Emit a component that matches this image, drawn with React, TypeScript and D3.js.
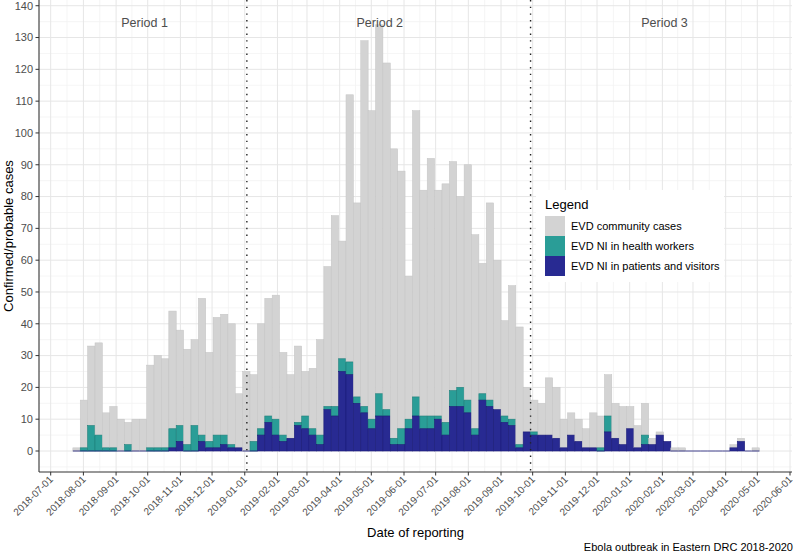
import React from "react";
import * as d3 from "d3";

// Weekly counts, first week starting 2018-07-22
const firstWeek = "2018-07-22";
const community = [1,15,25,29,11,13,10,7,10,10,26,29,28,37,30,30,27,43,28,37,38,38,17,25,21,33,37,39,26,20,24,14,19,30,44,60,37,84,61,115,97,116,109,91,81,45,90,71,81,71,75,72,60,74,61,41,62,47,30,42,37,14,10,10,18,16,9,7,7,6,11,10,13,11,12,7,7,10,2,1,0,1,1,0,0,0,0,0,0,1,1,0,1];
const healthWorkers = [0,1,8,5,1,1,0,2,0,0,1,1,1,6,5,2,8,2,2,4,3,1,0,0,3,2,2,5,2,0,1,4,2,3,1,3,4,4,2,2,3,7,2,2,5,3,6,4,4,1,4,5,6,4,2,2,2,0,2,2,1,0,1,0,0,0,0,0,0,0,0,1,5,0,0,0,0,3,0,0,0,0,0,0,0,0,0,0,0,0,0,0,0];
const patientsVisitors = [0,0,0,0,0,0,0,0,0,0,0,0,0,1,3,0,0,3,1,1,2,1,1,0,0,5,9,5,3,4,8,7,5,2,13,11,25,24,15,12,7,11,11,2,2,7,11,7,7,10,5,14,14,12,5,16,14,13,9,8,1,6,5,5,5,4,1,5,3,1,1,0,6,4,2,7,1,2,2,5,3,0,0,0,0,0,0,0,0,1,3,0,0];

const periodLabels = ["Period 1", "Period 2", "Period 3"];
const periodLabelDates = ["2018-09-28", "2019-05-09", "2020-02-03"];
const periodBreaks = ["2019-01-03", "2019-09-29"];
const yTicks = [0,10,20,30,40,50,60,70,80,90,100,110,120,130,140];
const yMinor = [-5,5,15,25,35,45,55,65,75,85,95,105,115,125,135];
const legendLabels = ["EVD community cases", "EVD NI in health workers", "EVD NI in patients and visitors"];

const GREY = "#D3D3D3", GREY_S = "#C4C4C4";
const TEAL = "#2A9D97", TEAL_S = "#1E7F7A";
const NAVY = "#282A92", NAVY_S = "#1A1B78";
const FONT = "'Liberation Sans', Arial, sans-serif";

const parse = (s: string) => new Date(s + "T00:00:00Z");

export default function App() {
  const left = 39, right = 792, top = 0, bottom = 472;
  const x = d3.scaleUtc().domain([parse("2018-07-01"), parse("2020-06-01")]).range([50.7, 790]);
  const y = d3.scaleLinear().domain([-6.6, 141.8]).range([bottom, top]);
  const start = parse(firstWeek);
  const weeks = community.map((_, i) => d3.utcDay.offset(start, i * 7));
  const months = d3.utcMonths(parse("2018-07-01"), parse("2020-06-02"));
  const minorX = months.slice(1).map((m, i) => new Date((m.getTime() + months[i].getTime()) / 2));
  const fmt = d3.utcFormat("%Y-%m-%d");

  const bars = weeks.map((w, i) => {
    const x0 = x(w), x1 = x(d3.utcDay.offset(w, 7));
    const p = patientsVisitors[i], h = healthWorkers[i], c = community[i];
    const out: any[] = [];
    if (c > 0) out.push(<rect key={"c" + i} x={x0} width={x1 - x0} y={y(p + h + c)} height={y(p + h) - y(p + h + c)} fill={GREY} stroke={GREY_S} strokeWidth={0.5} />);
    if (h > 0) out.push(<rect key={"h" + i} x={x0} width={x1 - x0} y={y(p + h)} height={y(p) - y(p + h)} fill={TEAL} stroke={TEAL_S} strokeWidth={0.6} />);
    if (p > 0) out.push(<rect key={"p" + i} x={x0} width={x1 - x0} y={y(p)} height={y(0) - y(p)} fill={NAVY} stroke={NAVY_S} strokeWidth={0.6} />);
    else out.push(<line key={"p" + i} x1={x0} x2={x1} y1={y(0)} y2={y(0)} stroke={NAVY_S} strokeWidth={0.8} />);
    return out;
  });

  return (
    <svg width={796} height={555} style={{ position: "absolute", left: 0, top: 0, background: "#fff" }} fontFamily={FONT}>
      <rect x={0} y={0} width={796} height={555} fill="#fff" />
      <defs>
        <clipPath id="panel"><rect x={left} y={top} width={right - left} height={bottom - top} /></clipPath>
      </defs>
      <g clipPath="url(#panel)">
        {yMinor.map((v) => <line key={"ym" + v} x1={left} x2={right} y1={y(v)} y2={y(v)} stroke="#F3F3F3" strokeWidth={0.8} />)}
        {minorX.map((d, i) => <line key={"xm" + i} x1={x(d)} x2={x(d)} y1={top} y2={bottom} stroke="#F3F3F3" strokeWidth={0.8} />)}
        {yTicks.map((v) => <line key={"yg" + v} x1={left} x2={right} y1={y(v)} y2={y(v)} stroke="#E6E6E6" strokeWidth={1} />)}
        {months.map((d, i) => <line key={"xg" + i} x1={x(d)} x2={x(d)} y1={top} y2={bottom} stroke="#E6E6E6" strokeWidth={1} />)}
        {bars}
        {periodBreaks.map((s) => <line key={s} x1={x(parse(s))} x2={x(parse(s))} y1={top} y2={bottom} stroke="#222" strokeWidth={1.4} strokeDasharray="1.4,5.3" />)}
      </g>
      {periodLabels.map((t, i) => (
        <text key={t} x={x(parse(periodLabelDates[i]))} y={27} textAnchor="middle" fontSize={12.5} fill="#4D4D4D">{t}</text>
      ))}
      <line x1={left} x2={left} y1={top} y2={bottom} stroke="#333" strokeWidth={1.1} />
      <line x1={left} x2={right} y1={bottom} y2={bottom} stroke="#333" strokeWidth={1.1} />
      {yTicks.map((v) => (
        <g key={"yt" + v}>
          <line x1={left - 3.5} x2={left} y1={y(v)} y2={y(v)} stroke="#333" />
          <text x={left - 6} y={y(v)} dy="0.35em" textAnchor="end" fontSize={11} fill="#4D4D4D">{v}</text>
        </g>
      ))}
      {months.map((d, i) => (
        <g key={"xt" + i}>
          <line x1={x(d)} x2={x(d)} y1={bottom} y2={bottom + 3.5} stroke="#333" />
          <text transform={`translate(${x(d) - 2},${bottom + 3}) rotate(-45)`} textAnchor="end" dy="0.71em" fontSize={10} fill="#4D4D4D">{fmt(d)}</text>
        </g>
      ))}
      <text transform={`translate(13,${(top + bottom) / 2}) rotate(-90)`} textAnchor="middle" fontSize={13} fill="#000">Confirmed/probable cases</text>
      <text x={(left + right) / 2} y={537} textAnchor="middle" fontSize={13} fill="#000">Date of reporting</text>
      <text x={793} y={551} textAnchor="end" fontSize={11} fill="#000">Ebola outbreak in Eastern DRC 2018-2020</text>
      <g>
        <rect x={536} y={190} width={188} height={92} fill="#fff" />
        <text x={545} y={209} fontSize={13} fill="#000">Legend</text>
        {[GREY, TEAL, NAVY].map((c, i) => (
          <g key={"lg" + i}>
            <rect x={545} y={216 + i * 20} width={20} height={20} fill={c} />
            <text x={571} y={226 + i * 20} dy="0.35em" fontSize={11} fill="#000">{legendLabels[i]}</text>
          </g>
        ))}
      </g>
    </svg>
  );
}
